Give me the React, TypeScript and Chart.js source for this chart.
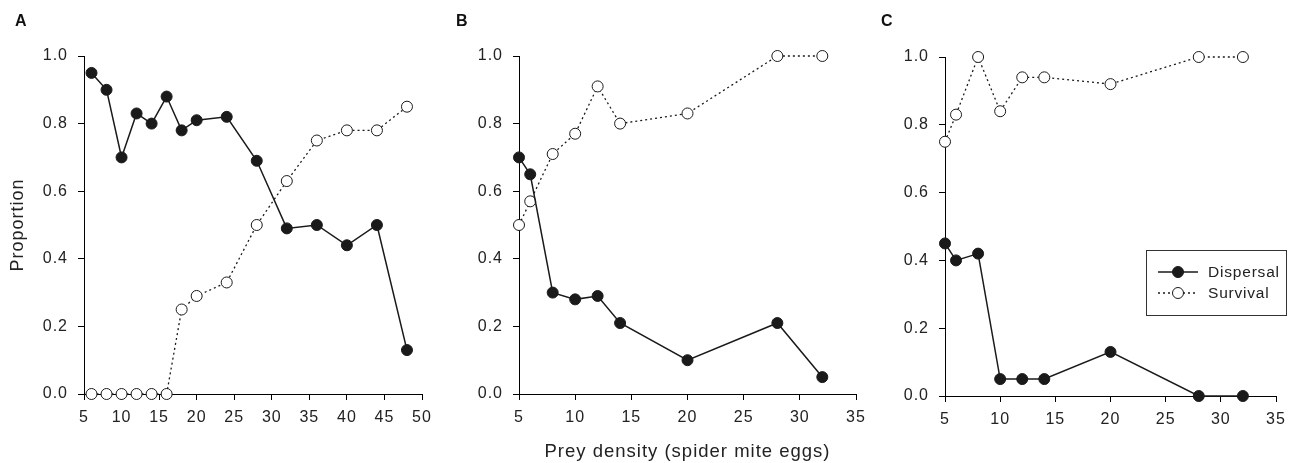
import React, { useEffect, useRef } from "react";
import { Chart, registerables } from "chart.js";

Chart.register(...registerables);

// Panel A
const xA = [6, 8, 10, 12, 14, 16, 18, 20, 24, 28, 32, 36, 40, 44, 48];
const dispA = [0.95, 0.9, 0.7, 0.83, 0.8, 0.88, 0.78, 0.81, 0.82, 0.69, 0.49, 0.5, 0.44, 0.5, 0.13];
const survA = [0, 0, 0, 0, 0, 0, 0.25, 0.29, 0.33, 0.5, 0.63, 0.75, 0.78, 0.78, 0.85];
// Panel B
const xB = [5, 6, 8, 10, 12, 14, 20, 28, 32];
const dispB = [0.7, 0.65, 0.3, 0.28, 0.29, 0.21, 0.1, 0.21, 0.05];
const survB = [0.5, 0.57, 0.71, 0.77, 0.91, 0.8, 0.83, 1.0, 1.0];
// Panel C
const xC = [5, 6, 8, 10, 12, 14, 20, 28, 32];
const dispC = [0.45, 0.4, 0.42, 0.05, 0.05, 0.05, 0.13, 0, 0];
const survC = [0.75, 0.83, 1.0, 0.84, 0.94, 0.94, 0.92, 1.0, 1.0];

const seriesNames = ["Dispersal", "Survival"];
const panelLabels = ["A", "B", "C"];
const yTitle = "Proportion";
const xTitle = "Prey density (spider mite eggs)";

const FONT = "'Liberation Sans', Arial, Helvetica, sans-serif";
const INK = "#1a1a1a";
const SPACING = "1px";

type PanelCfg = {
  xs: number[];
  disp: number[];
  surv: number[];
  xMax: number;
  canvasLeft: number;
  canvasWidth: number;
  areaLeft: number;
  areaRight: number;
  areaTop: number;
  areaBottom: number;
  yTitle?: boolean;
  xTitle?: boolean;
  legend?: boolean;
};

const H = 463;

const panels: PanelCfg[] = [
  { xs: xA, disp: dispA, surv: survA, xMax: 50, canvasLeft: 0, canvasWidth: 440, areaLeft: 84, areaRight: 422, areaTop: 56, areaBottom: 394, yTitle: true },
  { xs: xB, disp: dispB, surv: survB, xMax: 35, canvasLeft: 440, canvasWidth: 430, areaLeft: 519, areaRight: 856, areaTop: 56, areaBottom: 394, xTitle: true },
  { xs: xC, disp: dispC, surv: survC, xMax: 35, canvasLeft: 870, canvasWidth: 421, areaLeft: 945, areaRight: 1276, areaTop: 57, areaBottom: 396, legend: true },
];

function drawMarker(ctx: CanvasRenderingContext2D, x: number, y: number, filled: boolean) {
  ctx.beginPath();
  ctx.arc(x, y, 5.5, 0, Math.PI * 2);
  ctx.fillStyle = filled ? INK : "#fff";
  ctx.fill();
  ctx.lineWidth = 1;
  ctx.strokeStyle = INK;
  ctx.stroke();
}

const spacingPlugin = {
  id: "letterSpacing",
  beforeInit(chart: any) {
    (chart.ctx as any).letterSpacing = SPACING;
  },
  beforeUpdate(chart: any) {
    (chart.ctx as any).letterSpacing = SPACING;
  },
  beforeDraw(chart: any) {
    (chart.ctx as any).letterSpacing = SPACING;
  },
};

const legendPlugin = {
  id: "boxLegend",
  afterDraw(chart: any) {
    const opts = chart.options.plugins.boxLegend;
    if (!opts || !opts.show) return;
    const ctx: CanvasRenderingContext2D = chart.ctx;
    const bx = opts.x, by = opts.y, bw = opts.w, bh = opts.h;
    ctx.save();
    ctx.fillStyle = "#fff";
    ctx.fillRect(bx, by, bw, bh);
    ctx.strokeStyle = "#333";
    ctx.lineWidth = 1;
    ctx.strokeRect(bx + 0.5, by + 0.5, bw, bh);
    const rows = [
      { y: by + 22, dash: [] as number[], filled: true, label: seriesNames[0] },
      { y: by + 43, dash: [2, 3], filled: false, label: seriesNames[1] },
    ];
    rows.forEach((r) => {
      ctx.beginPath();
      ctx.setLineDash(r.dash);
      ctx.lineWidth = r.filled ? 1.5 : 1.3;
      ctx.strokeStyle = INK;
      ctx.moveTo(bx + 12, r.y);
      ctx.lineTo(bx + 52, r.y);
      ctx.stroke();
      ctx.setLineDash([]);
      drawMarker(ctx, bx + 32, r.y, r.filled);
      ctx.fillStyle = "#222";
      ctx.font = `15.5px ${FONT}`;
      (ctx as any).letterSpacing = "0.8px";
      ctx.textBaseline = "middle";
      ctx.textAlign = "left";
      ctx.fillText(r.label, bx + 62, r.y + 1);
    });
    ctx.restore();
  },
};

function Panel({ cfg }: { cfg: PanelCfg }) {
  const ref = useRef<HTMLCanvasElement>(null);
  useEffect(() => {
    if (!ref.current) return;
    const leftW = cfg.areaLeft - cfg.canvasLeft;
    const rightPad = cfg.canvasLeft + cfg.canvasWidth - cfg.areaRight;
    const bottomH = H - cfg.areaBottom;
    const axisGrid = {
      display: true,
      drawOnChartArea: false,
      drawTicks: true,
      tickLength: 6,
      color: "#000",
      lineWidth: 1,
    };
    const chart = new Chart(ref.current, {
      type: "line",
      data: {
        datasets: [
          {
            label: seriesNames[0],
            data: cfg.xs.map((x, i) => ({ x, y: cfg.disp[i] })),
            borderColor: INK,
            backgroundColor: INK,
            pointBackgroundColor: INK,
            pointBorderColor: INK,
            pointRadius: 5.5,
            pointBorderWidth: 1,
            borderWidth: 1.5,
            tension: 0,
            clip: false as any,
          },
          {
            label: seriesNames[1],
            data: cfg.xs.map((x, i) => ({ x, y: cfg.surv[i] })),
            borderColor: INK,
            backgroundColor: "#fff",
            pointBackgroundColor: "#fff",
            pointBorderColor: INK,
            pointRadius: 5.5,
            pointBorderWidth: 1,
            borderWidth: 1.3,
            borderDash: [2, 3],
            tension: 0,
            clip: false as any,
          },
        ],
      },
      options: {
        animation: false,
        responsive: false,
        events: [],
        layout: { padding: { left: 0, right: rightPad, top: cfg.areaTop, bottom: 0 } },
        plugins: {
          legend: { display: false },
          tooltip: { enabled: false },
          boxLegend: { show: !!cfg.legend, x: 1146 - cfg.canvasLeft, y: 250, w: 140, h: 65 },
        } as any,
        scales: {
          x: {
            type: "linear",
            min: 5,
            max: cfg.xMax,
            grid: axisGrid,
            border: { display: true, color: "#000", width: 1 },
            ticks: {
              stepSize: 5,
              color: "#222",
              padding: 8,
              font: { family: FONT, size: 16 },
              maxRotation: 0,
            },
            title: {
              display: !!cfg.xTitle,
              text: xTitle,
              color: "#222",
              font: { family: FONT, size: 18.5 },
              padding: { top: 0, bottom: 0 },
            },
            afterFit(scale: any) {
              scale.height = bottomH;
              scale.paddingLeft = 0;
              scale.paddingRight = 0;
            },
          },
          y: {
            type: "linear",
            min: 0,
            max: 1,
            grid: axisGrid,
            border: { display: true, color: "#000", width: 1 },
            ticks: {
              stepSize: 0.2,
              color: "#222",
              padding: 10,
              font: { family: FONT, size: 16 },
              callback: (v: any) => Number(v).toFixed(1),
            },
            title: {
              display: !!cfg.yTitle,
              text: yTitle,
              color: "#222",
              font: { family: FONT, size: 18 },
              padding: { top: 7, bottom: 0 },
            },
            afterFit(scale: any) {
              scale.width = leftW;
              scale.paddingTop = 0;
              scale.paddingBottom = 0;
            },
          },
        },
      },
      plugins: [spacingPlugin, legendPlugin],
    } as any);
    return () => chart.destroy();
  }, [cfg]);
  return (
    <canvas
      ref={ref}
      width={cfg.canvasWidth}
      height={H}
      style={{ position: "absolute", left: cfg.canvasLeft, top: 0, width: cfg.canvasWidth, height: H }}
    />
  );
}

const labelPos = [
  { x: 15, y: 12 },
  { x: 456, y: 12 },
  { x: 881, y: 12 },
];

export default function App() {
  return (
    <div style={{ position: "absolute", left: 0, top: 0, width: 1291, height: H, background: "#fff", overflow: "hidden" }}>
      {panels.map((p, i) => (
        <Panel key={i} cfg={p} />
      ))}
      {panelLabels.map((l, i) => (
        <div
          key={l}
          style={{
            position: "absolute",
            left: labelPos[i].x,
            top: labelPos[i].y,
            fontFamily: FONT,
            fontWeight: "bold",
            fontSize: 16,
            lineHeight: "18px",
            color: "#111",
          }}
        >
          {l}
        </div>
      ))}
    </div>
  );
}
